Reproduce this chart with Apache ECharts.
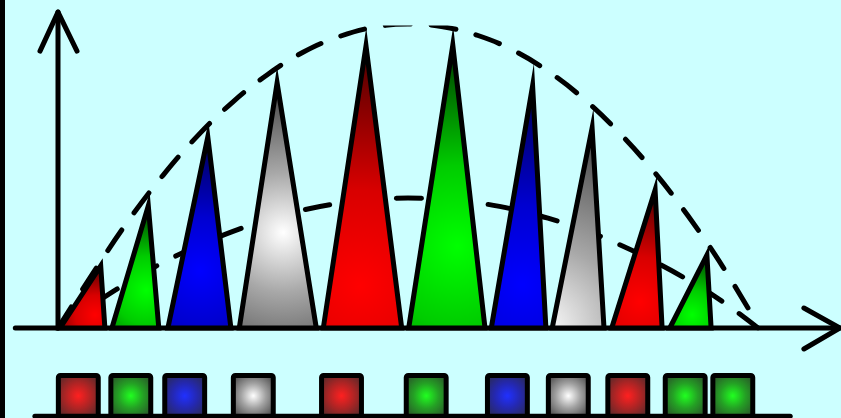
<!DOCTYPE html>
<html>
<head>
    <meta charset="utf-8"/>
    <title>triangles</title>
    <style>
        html, body { margin: 0; padding: 0; background: #ccffff; }
        #chart { width: 836px; height: 418px; border-left: 5px solid #000; background: #ccffff; }
    </style>
</head>
<body>
<div id="chart"></div>
<script src="https://cdn.jsdelivr.net/npm/echarts@6/dist/echarts.min.js"></script>
<script>
    // triangles (chart units: x 0..100 along the axis, y 0..100 up)
    var triLeft  = [0.3, 7.7, 15.7, 25.9, 37.9, 50.1, 61.9, 70.6, 79.1, 87.4];
    var triRight = [6.7, 14.4, 24.7, 36.9, 49.1, 61.0, 69.7, 78.0, 86.3, 93.3];
    var triPeakX = [6.1, 12.9, 21.4, 31.3, 44.0, 56.4, 67.8, 76.3, 85.3, 92.7];
    var triPeakY = [20.7, 40.7, 63.7, 81.7, 94.0, 94.3, 80.7, 66.7, 46.0, 24.3];
    var triColor = ['red', 'green', 'blue', 'gray', 'red', 'green', 'blue', 'gray', 'red', 'green'];

    // little squares under the axis
    var squareX = [2.9, 10.4, 18.1, 27.9, 40.5, 52.6, 64.2, 72.9, 81.4, 89.6, 96.4];
    var squareColor = ['red', 'green', 'blue', 'gray', 'red', 'green', 'blue', 'gray', 'red', 'green', 'green'];

    // dashed arcs
    var arcX     = [0, 5, 10, 15, 20, 25, 30, 35, 40, 45, 50, 55, 60, 65, 70, 75, 80, 85, 90, 95, 100];
    var bigArc   = [0, 18.3, 35.6, 50.9, 64.2, 75.4, 84.6, 91.9, 97.0, 100.2, 101.3, 100.4, 97.5, 92.6, 85.6, 76.6, 65.5, 52.5, 37.4, 20.3, 1];
    var smallArc = [0, 7.8, 15.2, 21.8, 27.4, 32.2, 36.2, 39.3, 41.5, 42.8, 43.3, 42.9, 41.7, 39.6, 36.6, 32.8, 28.0, 22.4, 16.0, 8.7, 0];

    // axis extents
    var xAxisSpan = [-6.1, 111.7];
    var yAxisSpan = [0, 105.3];

    // layout / style
    var SQ_TOP = -15.8, SQ_BOTTOM = -29.4, SQ_W = 5.7;
    var SQ_LINE = [-3.3, 104.6];
    var palette = {
        red:   ['#ff0000', '#d80000', '#4a0000'],
        green: ['#00ff00', '#00cc00', '#003800'],
        blue:  ['#0000ff', '#0000d0', '#000050'],
        gray:  ['#ffffff', '#a8a8a8', '#404040']
    };
    var squarePalette = {
        red:   ['#ff2020', '#b02424', '#4a2a2a'],
        green: ['#20ff20', '#24a024', '#2a4a2a'],
        blue:  ['#2030ff', '#2428b0', '#2a2a4a'],
        gray:  ['#ffffff', '#a0a0a0', '#404040']
    };
    // where the light spot sits in each triangle (fraction of its box)
    var triGlow = [[.78, .79], [.73, .69], [.51, .70], [.57, .61], [.47, .85],
                   [.64, .71], [.57, .82], [-.2, 1.0], [.56, .81], [.54, .82]];

    var chart = echarts.init(document.getElementById('chart'));

    var triData = [];
    for (var i = 0; i < triLeft.length; i++) {
        triData.push([triLeft[i], triRight[i], triPeakX[i], triPeakY[i]]);
    }
    var sqData = [];
    for (var j = 0; j < squareX.length; j++) {
        sqData.push([squareX[j], SQ_TOP]);
    }
    var pairs = function (ys) {
        var out = [];
        for (var k = 0; k < arcX.length; k++) out.push([arcX[k], ys[k]]);
        return out;
    };

    var renderTriangle = function (params, api) {
        var i = params.dataIndex;
        var l = api.coord([api.value(0), 0]);
        var r = api.coord([api.value(1), 0]);
        var p = api.coord([api.value(2), api.value(3)]);
        var g = triGlow[i];
        var cx = l[0] + (r[0] - l[0]) * g[0];
        var cy = p[1] + (l[1] - p[1]) * g[1];
        var rad = Math.sqrt((p[0] - cx) * (p[0] - cx) + (p[1] - cy) * (p[1] - cy));
        var c = palette[triColor[i]];
        return {
            type: 'polygon',
            shape: {points: [l, p, r]},
            style: {
                fill: new echarts.graphic.RadialGradient(cx, cy, rad, [
                    {offset: 0, color: c[0]}, {offset: 0.4, color: c[1]}, {offset: 1, color: c[2]}
                ], true),
                stroke: '#000',
                lineWidth: 5,
                lineJoin: 'miter',
                miterLimit: 20
            }
        };
    };

    var renderSquare = function (params, api) {
        var i = params.dataIndex;
        var a = api.coord([api.value(0) - SQ_W / 2, SQ_TOP]);
        var b = api.coord([api.value(0) + SQ_W / 2, SQ_BOTTOM]);
        var c = squarePalette[squareColor[i]];
        var cx = (a[0] + b[0]) / 2, cy = (a[1] + b[1]) / 2;
        return {
            type: 'rect',
            shape: {x: a[0], y: a[1], width: b[0] - a[0], height: b[1] - a[1], r: 2},
            style: {
                fill: new echarts.graphic.RadialGradient(cx, cy, 28, [
                    {offset: 0, color: c[0]}, {offset: 0.45, color: c[1]}, {offset: 1, color: c[2]}
                ], true),
                stroke: '#000',
                lineWidth: 5
            }
        };
    };

    var renderAxes = function (params, api) {
        var x0 = api.coord([xAxisSpan[0], 0]);
        var x1 = api.coord([xAxisSpan[1], 0]);
        var y0 = api.coord([0, yAxisSpan[0]]);
        var y1 = api.coord([0, yAxisSpan[1]]);
        var s0 = api.coord([SQ_LINE[0], SQ_BOTTOM]);
        var s1 = api.coord([SQ_LINE[1], SQ_BOTTOM]);
        var st = {stroke: '#000', lineWidth: 5, lineCap: 'round', lineJoin: 'round', fill: null};
        return {
            type: 'group',
            children: [
                {type: 'polyline', shape: {points: [x0, x1]}, style: st},
                {type: 'polyline', shape: {points: [[x1[0] - 36, x1[1] - 20], x1, [x1[0] - 36, x1[1] + 21]]}, style: st},
                {type: 'polyline', shape: {points: [y0, y1]}, style: st},
                {type: 'polyline', shape: {points: [[y1[0] - 18, y1[1] + 39], y1, [y1[0] + 19, y1[1] + 39]]}, style: st},
                {type: 'polyline', shape: {points: [s0, s1]}, style: st}
            ]
        };
    };

    var dashStyle = {color: '#000', width: 5, type: [25, 21], cap: 'round'};

    var option = {
        animation: false,
        backgroundColor: '#ccffff',
        grid: {left: 53, right: 83, top: 28, bottom: 90},
        xAxis: {type: 'value', min: 0, max: 100, show: false},
        yAxis: {type: 'value', min: 0, max: 100, show: false},
        series: [
            {
                type: 'line', z: 1, data: pairs(bigArc), smooth: 0.4,
                symbol: 'none', lineStyle: dashStyle
            },
            {
                type: 'line', z: 1, data: pairs(smallArc), smooth: 0.4,
                symbol: 'none', lineStyle: dashStyle
            },
            {
                type: 'custom', z: 2, renderItem: renderAxes, data: [[0, 0]]
            },
            {
                type: 'custom', z: 3, renderItem: renderSquare, data: sqData
            },
            {
                type: 'custom', z: 4, renderItem: renderTriangle, data: triData
            }
        ]
    };
    chart.setOption(option);
</script>
</body>
</html>
